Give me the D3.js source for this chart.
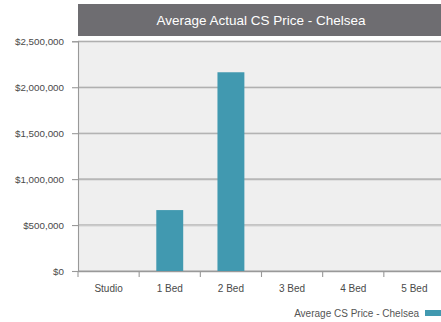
<!DOCTYPE html>
<html><head><meta charset="utf-8">
<script src="https://cdn.jsdelivr.net/npm/d3@7"></script>
<style>body{margin:0;background:#fff}svg{display:block}</style>
</head><body>
<svg id="c" width="441" height="322"></svg>
<script>
const categories = ["Studio","1 Bed","2 Bed","3 Bed","4 Bed","5 Bed"];
const values = [0, 663000, 2163000, 0, 0, 0];
const yTicks = [0, 500000, 1000000, 1500000, 2000000, 2500000];
const title = "Average Actual CS Price - Chelsea";
const seriesName = "Average CS Price - Chelsea";

const svg = d3.select("#c");
const font = "'Liberation Sans', Arial, Helvetica, sans-serif";
const m = {left:78, top:41.3, right:445, bottom:271};

svg.append("rect").attr("x",78).attr("y",4).attr("width",370).attr("height",32).attr("fill","#6e6d71");
svg.append("text").attr("x",261).attr("y",25).attr("text-anchor","middle")
  .attr("fill","#fff").attr("font-family",font).attr("font-size",13.5).text(title);

const x = d3.scaleBand().domain(categories).range([m.left, m.right]).paddingInner(0.56).paddingOuter(0.28);
const y = d3.scaleLinear().domain([0,2500000]).range([m.bottom, m.top]);

svg.append("rect").attr("x",m.left).attr("y",m.top).attr("width",m.right-m.left).attr("height",m.bottom-m.top).attr("fill","#efefef");

// grid
svg.append("g").selectAll("line").data(yTicks).join("line")
  .attr("x1",m.left).attr("x2",m.right).attr("y1",d=>y(d)).attr("y2",d=>y(d))
  .attr("stroke","#999").attr("stroke-width",1.1);
svg.append("g").selectAll("line").data(yTicks).join("line")
  .attr("x1",m.left).attr("x2",m.right).attr("y1",d=>y(d)+1.2).attr("y2",d=>y(d)+1.2)
  .attr("stroke","#ddd").attr("stroke-width",1);

// bars
svg.append("g").selectAll("rect").data(categories).join("rect")
  .attr("x",d=>x(d)).attr("width",x.bandwidth())
  .attr("y",(d,i)=>y(values[i])).attr("height",(d,i)=>y(0)-y(values[i]))
  .attr("fill","#4199b0");

// y axis
const fmt = d=>"$"+d3.format(",")(d);
const ya = svg.append("g").attr("transform",`translate(${m.left},0)`)
  .call(d3.axisLeft(y).tickValues(yTicks).tickFormat(fmt).tickSize(6).tickPadding(8));
ya.select(".domain").attr("stroke","#999").attr("stroke-width",1.1);
ya.selectAll(".tick line").attr("stroke","#999").attr("stroke-width",1.1);
ya.selectAll("text").attr("font-family",font).attr("font-size",9.8).attr("fill","#4a4a4a");

// x axis
const xa = svg.append("g").attr("transform",`translate(0,${m.bottom})`)
  .call(d3.axisBottom(x).tickSize(0).tickPadding(14));
xa.select(".domain").attr("stroke","#999").attr("stroke-width",1.1);
xa.selectAll("text").attr("font-family",font).attr("font-size",10).attr("fill","#4a4a4a");
const step = x.step();
const bounds = categories.map((c,i)=>m.left + i*step);
svg.append("g").selectAll("line").data(bounds).join("line")
  .attr("x1",d=>d).attr("x2",d=>d).attr("y1",m.bottom).attr("y2",m.bottom+6)
  .attr("stroke","#999").attr("stroke-width",1.1);

// legend
svg.append("text").attr("x",419).attr("y",317).attr("text-anchor","end")
  .attr("font-family",font).attr("font-size",10).attr("fill","#555").text(seriesName);
svg.append("rect").attr("x",425).attr("y",310).attr("width",20).attr("height",6).attr("fill","#4199b0");
</script>
</body></html>
